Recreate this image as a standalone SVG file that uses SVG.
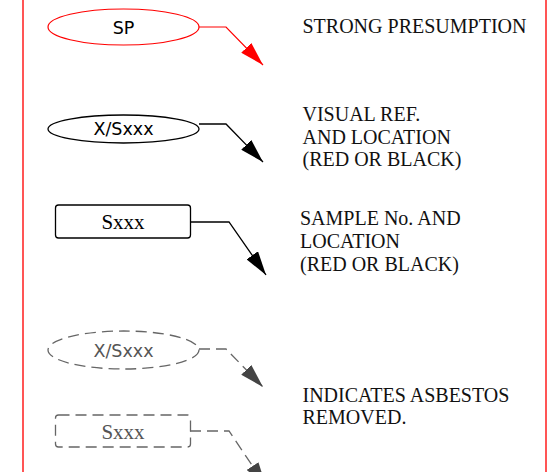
<svg xmlns="http://www.w3.org/2000/svg" width="547" height="472" viewBox="0 0 547 472">
<style>
.border{stroke:#f55;stroke-width:2;fill:none}
.sans{font-family:"DejaVu Sans",sans-serif;font-size:17.5px;text-anchor:middle}
.serif{font-family:"Liberation Serif",serif;font-size:21px;text-anchor:middle}
.lbl{font-family:"Liberation Serif",serif;font-size:20px;fill:#111}
.red{stroke:#f00;stroke-width:1.2;fill:none}
.blk{stroke:#000;stroke-width:1.3;fill:none}
.gry{stroke:#666;stroke-width:1.3;fill:none;stroke-dasharray:11 6}
</style>
<defs>
<marker id="ar" viewBox="0 0 24 14" refX="24" refY="7" markerWidth="24" markerHeight="14" markerUnits="userSpaceOnUse" orient="auto"><path d="M0,0 L24,7 L0,14 z" fill="#f00"/></marker>
<marker id="ab" viewBox="0 0 24 14" refX="24" refY="7" markerWidth="24" markerHeight="14" markerUnits="userSpaceOnUse" orient="auto"><path d="M0,0 L24,7 L0,14 z" fill="#000"/></marker>
<marker id="ag" viewBox="0 0 24 14" refX="24" refY="7" markerWidth="24" markerHeight="14" markerUnits="userSpaceOnUse" orient="auto"><path d="M0,0 L24,7 L0,14 z" fill="#444"/></marker>
</defs>
<rect width="547" height="472" fill="#fff"/>
<line class="border" x1="23" y1="0" x2="23" y2="472"/>
<line class="border" x1="546" y1="0" x2="546" y2="472"/>
<g id="connectors">
<path class="red" d="M199,27 H226 L263,65" marker-end="url(#ar)"/>
<path class="blk" d="M199,124 H226 L263,162" marker-end="url(#ab)"/>
<path class="blk" d="M190,222 H229 L266,275" marker-end="url(#ab)"/>
<path class="gry" d="M199,349 H226 L263,387" marker-end="url(#ag)"/>
<path class="gry" d="M190,431 H229 L266,486" marker-end="url(#ag)"/>
</g>
<g id="sp">
<ellipse class="red" cx="123.5" cy="27" rx="75.5" ry="18"/>
<text class="sans" x="123.5" y="33.5">SP</text>
</g>
<g id="visual">
<ellipse class="blk" cx="123.5" cy="129" rx="75.5" ry="14"/>
<text class="sans" x="123.5" y="135">X/Sxxx</text>
</g>
<g id="sample">
<rect class="blk" x="55.5" y="205" width="135" height="33" rx="3"/>
<text class="serif" x="123" y="228.5">Sxxx</text>
</g>
<g id="visual-removed">
<ellipse class="gry" cx="123.5" cy="350" rx="75.5" ry="19"/>
<text class="sans" x="123.5" y="356.5" fill="#555">X/Sxxx</text>
</g>
<g id="sample-removed">
<rect class="gry" x="55.5" y="415" width="135" height="32" rx="3"/>
<text class="serif" x="123" y="438.5" fill="#555">Sxxx</text>
</g>
<g id="labels">
<text class="lbl" x="302.5" y="33">STRONG PRESUMPTION</text>
<text class="lbl" x="302.5" y="121">VISUAL REF.</text>
<text class="lbl" x="302.5" y="143.5">AND LOCATION</text>
<text class="lbl" x="302.5" y="165.5">(RED OR BLACK)</text>
<text class="lbl" x="300" y="225">SAMPLE No. AND</text>
<text class="lbl" x="300" y="248">LOCATION</text>
<text class="lbl" x="300" y="271">(RED OR BLACK)</text>
<text class="lbl" x="302.5" y="401.5">INDICATES ASBESTOS</text>
<text class="lbl" x="302.5" y="424">REMOVED.</text>
</g>
</svg>
